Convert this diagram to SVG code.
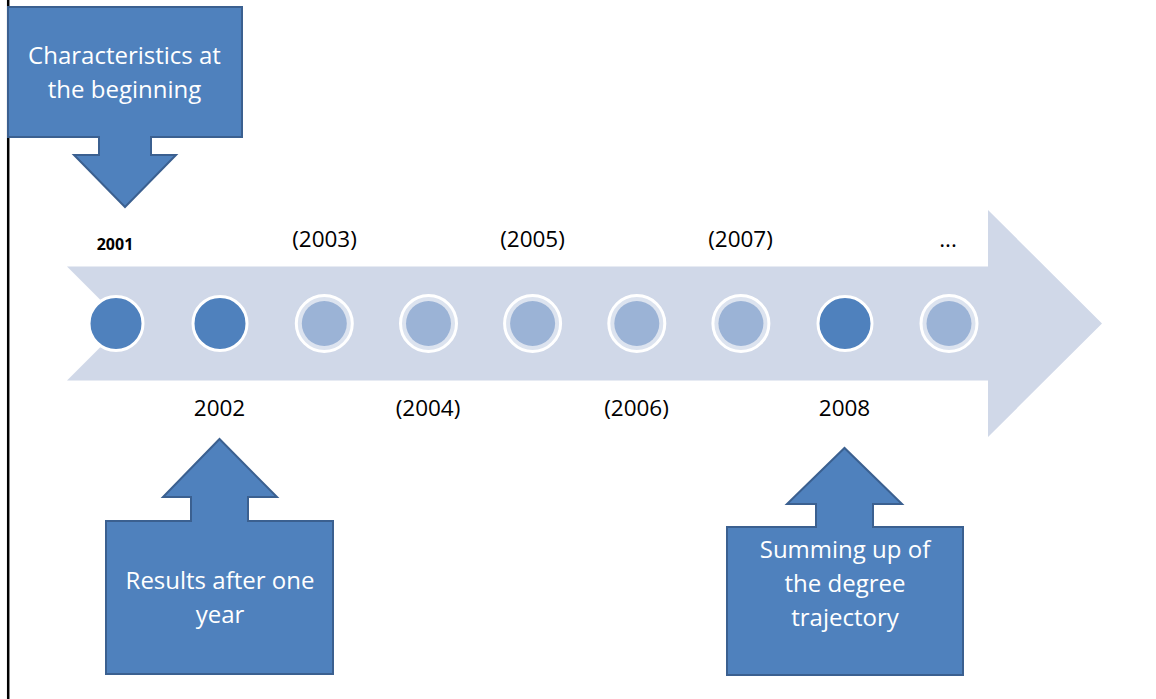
<svg xmlns="http://www.w3.org/2000/svg" width="1156" height="699" viewBox="0 0 1156 699">
  <style>
    .callout { fill: #4f81bd; stroke: #3b6090; stroke-width: 2; stroke-linejoin: miter; }
    .ctext { font-family: "Open Sans", "Liberation Sans", sans-serif; font-size: 24px; fill: #ffffff; text-anchor: middle; }
    .year { font-family: "Open Sans", "Liberation Sans", sans-serif; font-size: 22.5px; fill: #000000; text-anchor: middle; }
    .year-small { font-family: "Open Sans", "Liberation Sans", sans-serif; font-size: 16px; font-weight: bold; fill: #000000; text-anchor: middle; }
    .dot-dark { fill: #4f81bd; stroke: #ffffff; stroke-width: 3; }
    .dot-light-ring { fill: #dce3ef; stroke: #ffffff; stroke-width: 3; }
    .dot-light { fill: #9bb3d6; }
  </style>
  <rect x="0" y="0" width="1156" height="699" fill="#ffffff"/>
  <line x1="8.2" y1="0" x2="8.2" y2="699" stroke="#000000" stroke-width="2.5"/>

  <g id="timeline-arrow">
    <polygon points="67,266.5 988,266.5 988,210 1102,323.5 988,437 988,380.5 67,380.5 124,323.5" fill="#d0d8e8"/>
  </g>

  <g id="dots">
    <g id="dot-2001"><circle class="dot-dark" cx="116" cy="323.5" r="27"/></g>
    <g id="dot-2002"><circle class="dot-dark" cx="220" cy="323.5" r="27"/></g>
    <g id="dot-2003"><circle class="dot-light-ring" cx="324.3" cy="323.5" r="28"/><circle class="dot-light" cx="324.3" cy="323.5" r="22.5"/></g>
    <g id="dot-2004"><circle class="dot-light-ring" cx="428.5" cy="323.5" r="28"/><circle class="dot-light" cx="428.5" cy="323.5" r="22.5"/></g>
    <g id="dot-2005"><circle class="dot-light-ring" cx="532.6" cy="323.5" r="28"/><circle class="dot-light" cx="532.6" cy="323.5" r="22.5"/></g>
    <g id="dot-2006"><circle class="dot-light-ring" cx="636.8" cy="323.5" r="28"/><circle class="dot-light" cx="636.8" cy="323.5" r="22.5"/></g>
    <g id="dot-2007"><circle class="dot-light-ring" cx="740.9" cy="323.5" r="28"/><circle class="dot-light" cx="740.9" cy="323.5" r="22.5"/></g>
    <g id="dot-2008"><circle class="dot-dark" cx="845" cy="323.5" r="27"/></g>
    <g id="dot-more"><circle class="dot-light-ring" cx="949" cy="323.5" r="28"/><circle class="dot-light" cx="949" cy="323.5" r="22.5"/></g>
  </g>

  <g id="year-labels">
    <text class="year-small" x="115" y="250">2001</text>
    <text class="year" x="324.5" y="247">(2003)</text>
    <text class="year" x="532.5" y="247">(2005)</text>
    <text class="year" x="740.5" y="247">(2007)</text>
    <text class="year" x="948" y="247">...</text>
    <text class="year" x="219.5" y="416">2002</text>
    <text class="year" x="428" y="416">(2004)</text>
    <text class="year" x="636.5" y="416">(2006)</text>
    <text class="year" x="844.5" y="416">2008</text>
  </g>

  <g id="callout-beginning">
    <polygon class="callout" points="8,7 242,7 242,137 151,137 151,155 176,155 125,207 74,155 99,155 99,137 8,137"/>
    <text class="ctext" x="124.5" y="64">Characteristics at</text>
    <text class="ctext" x="124.5" y="98">the beginning</text>
  </g>

  <g id="callout-one-year">
    <polygon class="callout" points="106,521 191,521 191,497 163,497 219.5,439 277,497 248,497 248,521 333,521 333,674 106,674"/>
    <text class="ctext" x="220" y="589">Results after one</text>
    <text class="ctext" x="220" y="623">year</text>
  </g>

  <g id="callout-summing">
    <polygon class="callout" points="727,527 816,527 816,504 787,504 844.5,448 902,504 873,504 873,527 963,527 963,675 727,675"/>
    <text class="ctext" x="845" y="558">Summing up of</text>
    <text class="ctext" x="845" y="592">the degree</text>
    <text class="ctext" x="845" y="626">trajectory</text>
  </g>
</svg>
